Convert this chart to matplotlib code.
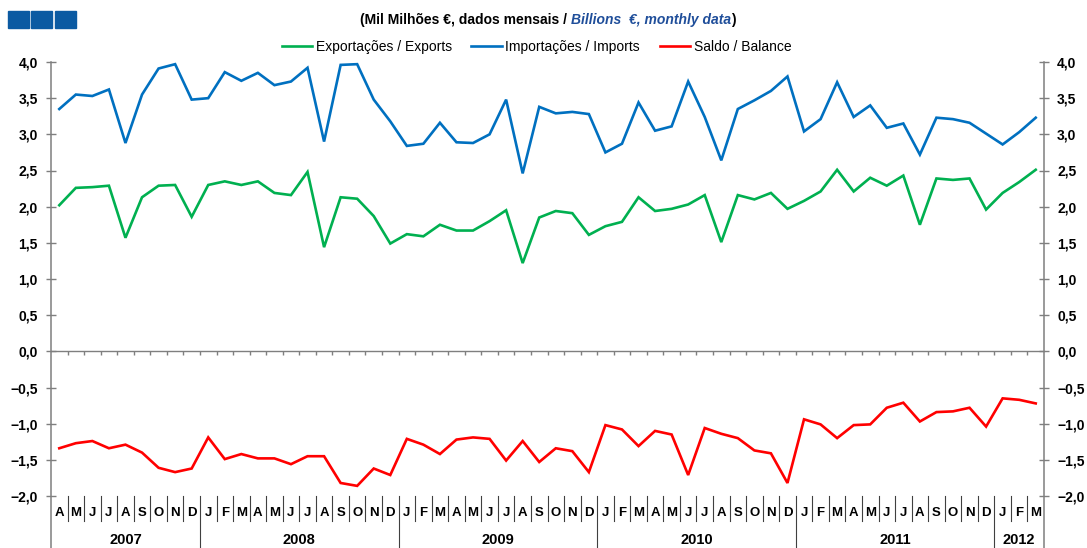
import matplotlib
matplotlib.use("Agg")
import matplotlib.pyplot as plt
from matplotlib.lines import Line2D
from matplotlib.patches import Rectangle
import matplotlib.transforms as mtransforms

plt.rcParams['font.family'] = ['Liberation Sans', 'DejaVu Sans']

# ---------------- data ----------------
month_labels = ["A", "M", "J", "J", "A", "S", "O", "N", "D",
                "J", "F", "M", "A", "M", "J", "J", "A", "S", "O", "N", "D",
                "J", "F", "M", "A", "M", "J", "J", "A", "S", "O", "N", "D",
                "J", "F", "M", "A", "M", "J", "J", "A", "S", "O", "N", "D",
                "J", "F", "M", "A", "M", "J", "J", "A", "S", "O", "N", "D",
                "J", "F", "M"]
year_labels = ["2007", "2008", "2009", "2010", "2011", "2012"]
months_per_year = [9, 12, 12, 12, 12, 3]

exports = [2.02, 2.26, 2.27, 2.29, 1.57, 2.13, 2.29, 2.30, 1.86,
           2.30, 2.35, 2.30, 2.35, 2.19, 2.16, 2.48, 1.44, 2.13, 2.11, 1.87, 1.49,
           1.62, 1.59, 1.75, 1.67, 1.67, 1.80, 1.95, 1.22, 1.85, 1.94, 1.91, 1.61,
           1.73, 1.79, 2.13, 1.94, 1.97, 2.03, 2.16, 1.51, 2.16, 2.10, 2.19, 1.97,
           2.08, 2.21, 2.51, 2.21, 2.40, 2.29, 2.43, 1.75, 2.39, 2.37, 2.39, 1.96,
           2.19, 2.34, 2.51]
imports = [3.35, 3.55, 3.53, 3.62, 2.88, 3.55, 3.91, 3.97, 3.48,
           3.50, 3.86, 3.74, 3.85, 3.68, 3.73, 3.92, 2.90, 3.96, 3.97, 3.48, 3.18,
           2.84, 2.87, 3.16, 2.89, 2.88, 3.00, 3.48, 2.46, 3.38, 3.29, 3.31, 3.28,
           2.75, 2.87, 3.44, 3.05, 3.11, 3.73, 3.24, 2.64, 3.35, 3.47, 3.60, 3.80,
           3.04, 3.21, 3.72, 3.24, 3.40, 3.09, 3.15, 2.72, 3.23, 3.21, 3.16, 3.01,
           2.86, 3.03, 3.23]
balance = [-1.34, -1.27, -1.24, -1.34, -1.29, -1.40, -1.61, -1.67, -1.62,
           -1.19, -1.49, -1.42, -1.48, -1.48, -1.56, -1.45, -1.45, -1.82, -1.86, -1.62, -1.71,
           -1.21, -1.29, -1.42, -1.22, -1.19, -1.21, -1.51, -1.24, -1.53, -1.34, -1.38, -1.67,
           -1.02, -1.08, -1.31, -1.10, -1.15, -1.71, -1.06, -1.14, -1.20, -1.37, -1.41, -1.82,
           -0.94, -1.01, -1.20, -1.02, -1.01, -0.78, -0.71, -0.97, -0.84, -0.83, -0.78, -1.04,
           -0.65, -0.67, -0.72]

series_names = ["Exportações / Exports", "Importações / Imports", "Saldo / Balance"]
series_colors = ["#00B050", "#0070C0", "#FF0000"]
yticks = [-2.0, -1.5, -1.0, -0.5, 0.0, 0.5, 1.0, 1.5, 2.0, 2.5, 3.0, 3.5, 4.0]

# ---------------- figure ----------------
W, H = 1087, 548
fig = plt.figure(figsize=(W / 100, H / 100), dpi=100)
ax_l, ax_r, ax_t, ax_b = 51, 1044, 62, 496
ax = fig.add_axes([ax_l / W, 1 - ax_b / H, (ax_r - ax_l) / W, (ax_b - ax_t) / H])

n = len(month_labels)
x = list(range(n))
lines = []
for vals, name, col in zip([exports, imports, balance], series_names, series_colors):
    ln, = ax.plot(x, vals, color=col, lw=1.9, label=name, solid_joinstyle='miter')
    lines.append(ln)

ax.set_xlim(-0.5, n - 0.5)
ax.set_ylim(-2, 4)

grey = "#7F7F7F"
# zero axis with month ticks
ax.spines['bottom'].set_position(('data', 0))
ax.spines['bottom'].set_color(grey)
ax.spines['bottom'].set_linewidth(1.0)
ax.spines['top'].set_visible(False)
ax.spines['left'].set_visible(False)
ax.spines['right'].set_visible(False)
ax.set_xticks([i + 0.5 for i in range(n - 1)])
ax.tick_params(axis='x', direction='out', length=3, width=1.0, color=grey,
               labelbottom=False)

ax.set_yticks(yticks)
ax.set_yticklabels([f"{v:.1f}".replace(".", ",").replace("-", "\u2212") for v in yticks])
ax.tick_params(axis='y', direction='inout', length=7, width=1.0, color=grey,
               left=True, right=True, labelleft=True, labelright=True,
               pad=6, labelsize=10)
for t in ax.yaxis.get_major_ticks():
    t.label1.set_fontweight('bold')
    t.label2.set_fontweight('bold')

# extended vertical axis lines
bottom_ax = -(H - ax_b) / (ax_b - ax_t)
for xa in (0, 1):
    ax.add_line(Line2D([xa, xa], [1, bottom_ax], transform=ax.transAxes,
                       color=grey, lw=1.1, clip_on=False))

trans = mtransforms.blended_transform_factory(ax.transData, ax.transAxes)
sep_short = -(521 - ax_b) / (ax_b - ax_t)
year_bounds = []
acc = 0
for m in months_per_year[:-1]:
    acc += m
    year_bounds.append(acc - 0.5)
for i in range(n - 1):
    b = i + 0.5
    y0 = bottom_ax if b in year_bounds else sep_short
    ax.add_line(Line2D([b, b], [0, y0], transform=trans, color="#404040",
                       lw=0.8, clip_on=False))

month_y = -(513 - ax_b) / (ax_b - ax_t)
for i, lab in enumerate(month_labels):
    ax.text(i, month_y, lab, transform=trans, ha='center', va='center',
            fontsize=9.5, fontweight='bold', clip_on=False)

year_y = -(540 - ax_b) / (ax_b - ax_t)
start = 0
for lab, m in zip(year_labels, months_per_year):
    cx = start + (m - 1) / 2
    ax.text(cx, year_y, lab, transform=trans, ha='center', va='center',
            fontsize=10.5, fontweight='bold', clip_on=False)
    start += m

# legend
fig.legend(handles=lines, loc='center', bbox_to_anchor=(536.5 / W, 1 - 47 / H),
           ncol=3, frameon=False, fontsize=10, handlelength=2.2,
           handletextpad=0.25, columnspacing=1.4)

# title made of three parts
parts = [("(Mil Milhões €, dados mensais / ", "black", "normal"),
         ("Billions  €, monthly data", "#1F4E9A", "italic"),
         (")", "black", "normal")]
texts = []
for s, c, st in parts:
    texts.append(fig.text(0, 1 - 20 / H, s, color=c, fontstyle=st,
                          fontweight='bold', fontsize=10, va='center', ha='left'))
fig.canvas.draw()
r = fig.canvas.get_renderer()
widths = [t.get_window_extent(r).width for t in texts]
total = sum(widths)
xpos = 548 - total / 2
for t, w in zip(texts, widths):
    t.set_x(xpos / W)
    xpos += w

# logo squares
for x0 in (8, 31, 55):
    fig.patches.append(Rectangle((x0 / W, 1 - 28 / H), 21 / W, 17 / H,
                                 transform=fig.transFigure, color="#0B5AA2"))

fig.savefig("out.png", dpi=100)
